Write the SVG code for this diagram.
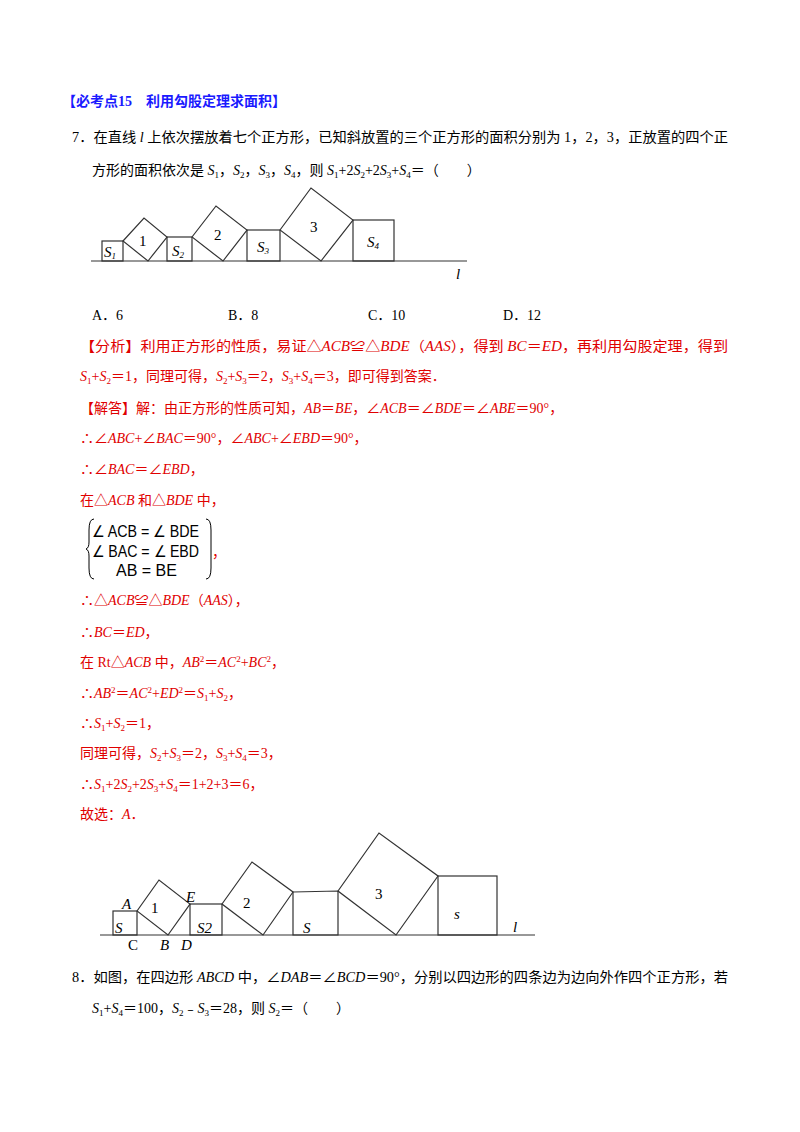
<svg xmlns="http://www.w3.org/2000/svg" width="800" height="1132" viewBox="0 0 800 1132">
<style>
text{font-family:"Liberation Serif","Noto Sans CJK SC",serif;font-size:14px;fill:#000}
.r{fill:#e00000}
.b{fill:#1a1aff;font-weight:bold}
.i{font-style:italic}
.s{font-size:9px}
.f{fill:none;stroke:#333;stroke-width:1.2}
.fl{font-size:15px}
.m{font-family:"Liberation Sans",sans-serif;font-size:16px}
</style>
<rect width="800" height="1132" fill="#fff"/>
<text x="62" y="106" class="b">【必考点15　利用勾股定理求面积】</text>
<text x="72" y="142" textLength="656" lengthAdjust="spacingAndGlyphs">7．在直线 <tspan class="i">l</tspan> 上依次摆放着七个正方形，已知斜放置的三个正方形的面积分别为 1，2，3，正放置的四个正</text>
<text x="92" y="175">方形的面积依次是 <tspan class="i">S</tspan><tspan class="s" dy="3">1</tspan><tspan dy="-3">，</tspan><tspan class="i">S</tspan><tspan class="s" dy="3">2</tspan><tspan dy="-3">，</tspan><tspan class="i">S</tspan><tspan class="s" dy="3">3</tspan><tspan dy="-3">，</tspan><tspan class="i">S</tspan><tspan class="s" dy="3">4</tspan><tspan dy="-3">，则 </tspan><tspan class="i">S</tspan><tspan class="s" dy="3">1</tspan><tspan dy="-3">+2</tspan><tspan class="i">S</tspan><tspan class="s" dy="3">2</tspan><tspan dy="-3">+2</tspan><tspan class="i">S</tspan><tspan class="s" dy="3">3</tspan><tspan dy="-3">+</tspan><tspan class="i">S</tspan><tspan class="s" dy="3">4</tspan><tspan dy="-3">＝（　　）</tspan></text>
<g id="fig1">
<line x1="91" y1="261" x2="467" y2="261" class="f"/>
<rect x="102" y="241" width="21" height="20" class="f"/>
<polygon points="123,241 144,218 167,237 148,261" class="f"/>
<rect x="167" y="237" width="25" height="24" class="f"/>
<polygon points="192,237 216,206 247,230 223,261" class="f"/>
<rect x="247" y="230" width="33" height="31" class="f"/>
<polygon points="280,230 311,188 353,220 321,261" class="f"/>
<rect x="353" y="220" width="41" height="41" class="f"/>
<text x="104" y="257" class="i fl">S<tspan class="s" dy="2">1</tspan></text>
<text x="139" y="246" class="fl">1</text>
<text x="172" y="256" class="i fl">S<tspan class="s" dy="2">2</tspan></text>
<text x="214" y="240" class="fl">2</text>
<text x="257" y="252" class="i fl">S<tspan class="s" dy="2">3</tspan></text>
<text x="310" y="232" class="fl">3</text>
<text x="367" y="247" class="i fl">S<tspan class="s" dy="2">4</tspan></text>
<text x="456" y="279" class="i fl">l</text>
</g>
<text x="92" y="320">A．6</text>
<text x="228" y="320">B．8</text>
<text x="368" y="320">C．10</text>
<text x="503" y="320">D．12</text>
<g class="r">
<text x="80" y="351" class="r" textLength="648" lengthAdjust="spacingAndGlyphs">【分析】利用正方形的性质，易证△<tspan class="i">ACB</tspan>≌△<tspan class="i">BDE</tspan>（<tspan class="i">AAS</tspan>），得到 <tspan class="i">BC</tspan>＝<tspan class="i">ED</tspan>，再利用勾股定理，得到</text>
<text x="80" y="381" class="r"><tspan class="i">S</tspan><tspan class="s" dy="3">1</tspan><tspan dy="-3">+</tspan><tspan class="i">S</tspan><tspan class="s" dy="3">2</tspan><tspan dy="-3">＝1，同理可得，</tspan><tspan class="i">S</tspan><tspan class="s" dy="3">2</tspan><tspan dy="-3">+</tspan><tspan class="i">S</tspan><tspan class="s" dy="3">3</tspan><tspan dy="-3">＝2，</tspan><tspan class="i">S</tspan><tspan class="s" dy="3">3</tspan><tspan dy="-3">+</tspan><tspan class="i">S</tspan><tspan class="s" dy="3">4</tspan><tspan dy="-3">＝3，即可得到答案．</tspan></text>
<text x="80" y="413" class="r">【解答】解：由正方形的性质可知，<tspan class="i">AB</tspan>＝<tspan class="i">BE</tspan>，∠<tspan class="i">ACB</tspan>＝∠<tspan class="i">BDE</tspan>＝∠<tspan class="i">ABE</tspan>＝90°，</text>
<text x="80" y="443" class="r">∴∠<tspan class="i">ABC</tspan>+∠<tspan class="i">BAC</tspan>＝90°，∠<tspan class="i">ABC</tspan>+∠<tspan class="i">EBD</tspan>＝90°，</text>
<text x="80" y="474" class="r">∴∠<tspan class="i">BAC</tspan>＝∠<tspan class="i">EBD</tspan>，</text>
<text x="80" y="505" class="r">在△<tspan class="i">ACB</tspan> 和△<tspan class="i">BDE</tspan> 中，</text>
<path d="M94,519 Q89,519 89,530 L89,542 Q89,548 86,549 Q89,550 89,556 L89,568 Q89,579 94,579" fill="none" stroke="#000" stroke-width="1"/>
<path d="M206,519 Q211,519 211,530 L211,568 Q211,579 206,579" fill="none" stroke="#000" stroke-width="1"/>
<text x="92" y="537" class="m" textLength="107" lengthAdjust="spacingAndGlyphs">∠ ACB = ∠ BDE</text>
<text x="92" y="557" class="m" textLength="107" lengthAdjust="spacingAndGlyphs">∠ BAC = ∠ EBD</text>
<text x="116" y="576" class="m">AB = BE</text>
<text x="212" y="557" class="r">，</text>
<text x="80" y="605" class="r">∴△<tspan class="i">ACB</tspan>≌△<tspan class="i">BDE</tspan>（<tspan class="i">AAS</tspan>），</text>
<text x="80" y="637" class="r">∴<tspan class="i">BC</tspan>＝<tspan class="i">ED</tspan>，</text>
<text x="80" y="667" class="r">在 Rt△<tspan class="i">ACB</tspan> 中，<tspan class="i">AB</tspan><tspan class="s" dy="-5">2</tspan><tspan dy="5">＝</tspan><tspan class="i">AC</tspan><tspan class="s" dy="-5">2</tspan><tspan dy="5">+</tspan><tspan class="i">BC</tspan><tspan class="s" dy="-5">2</tspan><tspan dy="5">，</tspan></text>
<text x="80" y="698" class="r">∴<tspan class="i">AB</tspan><tspan class="s" dy="-5">2</tspan><tspan dy="5">＝</tspan><tspan class="i">AC</tspan><tspan class="s" dy="-5">2</tspan><tspan dy="5">+</tspan><tspan class="i">ED</tspan><tspan class="s" dy="-5">2</tspan><tspan dy="5">＝</tspan><tspan class="i">S</tspan><tspan class="s" dy="3">1</tspan><tspan dy="-3">+</tspan><tspan class="i">S</tspan><tspan class="s" dy="3">2</tspan><tspan dy="-3">，</tspan></text>
<text x="80" y="728" class="r">∴<tspan class="i">S</tspan><tspan class="s" dy="3">1</tspan><tspan dy="-3">+</tspan><tspan class="i">S</tspan><tspan class="s" dy="3">2</tspan><tspan dy="-3">＝1，</tspan></text>
<text x="80" y="758" class="r">同理可得，<tspan class="i">S</tspan><tspan class="s" dy="3">2</tspan><tspan dy="-3">+</tspan><tspan class="i">S</tspan><tspan class="s" dy="3">3</tspan><tspan dy="-3">＝2，</tspan><tspan class="i">S</tspan><tspan class="s" dy="3">3</tspan><tspan dy="-3">+</tspan><tspan class="i">S</tspan><tspan class="s" dy="3">4</tspan><tspan dy="-3">＝3，</tspan></text>
<text x="80" y="789" class="r">∴<tspan class="i">S</tspan><tspan class="s" dy="3">1</tspan><tspan dy="-3">+2</tspan><tspan class="i">S</tspan><tspan class="s" dy="3">2</tspan><tspan dy="-3">+2</tspan><tspan class="i">S</tspan><tspan class="s" dy="3">3</tspan><tspan dy="-3">+</tspan><tspan class="i">S</tspan><tspan class="s" dy="3">4</tspan><tspan dy="-3">＝1+2+3＝6，</tspan></text>
<text x="80" y="819" class="r">故选：<tspan class="i">A</tspan>．</text>
</g>
<g id="fig2">
<line x1="100" y1="935" x2="535" y2="935" class="f"/>
<rect x="113" y="911" width="24" height="24" class="f"/>
<polygon points="137,911 159,880 190,904 168,935" class="f"/>
<rect x="190" y="904" width="32" height="31" class="f"/>
<polygon points="222,904 252,862 293,892 263,935" class="f"/>
<polygon points="293,892 338,891 338,935 293,935" class="f"/>
<polygon points="338,891 379,833 438,876 396,935" class="f"/>
<rect x="438" y="876" width="59" height="59" class="f"/>
<text x="122" y="909" class="i fl">A</text>
<text x="186" y="902" class="i fl">E</text>
<text x="128" y="950" class="fl">C</text>
<text x="160" y="950" class="i fl">B</text>
<text x="181" y="950" class="i fl">D</text>
<text x="151" y="913" class="fl">1</text>
<text x="243" y="908" class="fl">2</text>
<text x="375" y="899" class="fl">3</text>
<text x="115" y="933" class="i fl">S</text>
<text x="197" y="933" class="i fl">S2</text>
<text x="303" y="933" class="i fl">S</text>
<text x="454" y="919" class="i fl">s</text>
<text x="513" y="932" class="i fl">l</text>
</g>
<text x="72" y="982" textLength="656" lengthAdjust="spacingAndGlyphs">8．如图，在四边形 <tspan class="i">ABCD</tspan> 中，∠<tspan class="i">DAB</tspan>＝∠<tspan class="i">BCD</tspan>＝90°，分别以四边形的四条边为边向外作四个正方形，若</text>
<text x="92" y="1013"><tspan class="i">S</tspan><tspan class="s" dy="3">1</tspan><tspan dy="-3">+</tspan><tspan class="i">S</tspan><tspan class="s" dy="3">4</tspan><tspan dy="-3">＝100，</tspan><tspan class="i">S</tspan><tspan class="s" dy="3">2</tspan><tspan dy="-3">﹣</tspan><tspan class="i">S</tspan><tspan class="s" dy="3">3</tspan><tspan dy="-3">＝28，则 </tspan><tspan class="i">S</tspan><tspan class="s" dy="3">2</tspan><tspan dy="-3">＝（　　）</tspan></text>
</svg>
